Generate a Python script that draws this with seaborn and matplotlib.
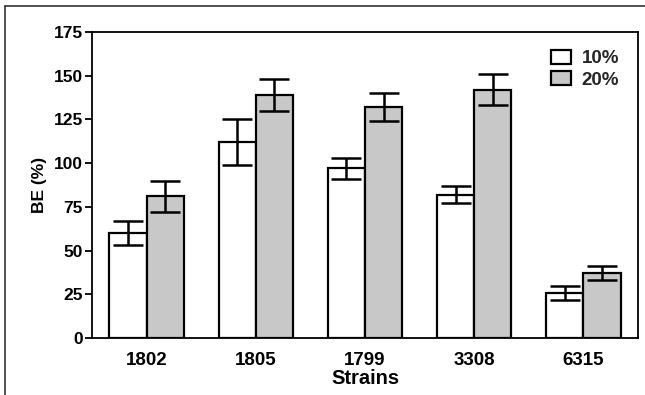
import matplotlib
matplotlib.use("Agg")
import matplotlib.pyplot as plt
import seaborn as sns
import pandas as pd
import numpy as np
from matplotlib.lines import Line2D

strains = ["1802", "1805", "1799", "3308", "6315"]
conc = ["10%", "20%"]
be_10 = [60, 112, 97, 82, 26]
be_20 = [81, 139, 132, 142, 37]
err_10 = [7, 13, 6, 5, 4]
err_20 = [9, 9, 8, 9, 4]

rows = []
for i, s in enumerate(strains):
    rows.append({"Strains": s, "Conc": "10%", "BE": be_10[i], "err": err_10[i]})
    rows.append({"Strains": s, "Conc": "20%", "BE": be_20[i], "err": err_20[i]})
df = pd.DataFrame(rows)

sns.set_theme(style="white")
plt.rcParams['font.family'] = ['Liberation Sans', 'DejaVu Sans']
plt.rcParams['font.weight'] = 'bold'

W, H = 645, 395
fig = plt.figure(figsize=(W / 100, H / 100), dpi=100)
ax = fig.add_axes([92 / W, 1 - 338 / H, (638 - 92) / W, (338 - 32) / H])

sns.barplot(data=df, x="Strains", y="BE", hue="Conc", order=strains, hue_order=conc,
            palette={"10%": "white", "20%": "#c8c8c8"}, width=0.68, errorbar=None,
            edgecolor="black", linewidth=1.6, ax=ax, saturation=1)

# error bars at the bar centres
for container, c in zip(ax.containers, conc):
    sub = df[df["Conc"] == c].set_index("Strains").loc[strains]
    xs = [p.get_x() + p.get_width() / 2 for p in container.patches]
    ax.errorbar(xs, sub["BE"].values, yerr=sub["err"].values, fmt="none",
                ecolor="black", elinewidth=1.8, capsize=11, capthick=1.8, zorder=5)

ax.set_ylim(0, 175)
ax.set_xlim(-0.5, 4.5)
ax.set_yticks([0, 25, 50, 75, 100, 125, 150, 175])
ax.tick_params(axis="y", which="both", left=True, length=5, width=1.3, direction="out",
               labelsize=12.5, pad=1.5, color="black")
ax.tick_params(axis="x", bottom=False, labelsize=13.5, pad=4)
for lab in ax.get_xticklabels() + ax.get_yticklabels():
    lab.set_fontweight("bold")
    lab.set_color("black")
ax.set_xlabel("Strains", fontsize=14.5, fontweight="bold", color="black", labelpad=0)
ax.set_ylabel("BE (%)", fontsize=12.5, fontweight="bold", color="black", labelpad=5)
for sp in ax.spines.values():
    sp.set_visible(True)
    sp.set_color("black")
    sp.set_linewidth(1.3)

leg = ax.legend(title=None, loc="upper right", frameon=False, fontsize=13.5,
                handlelength=1.1, handleheight=0.75, handletextpad=0.55,
                borderaxespad=0.4, labelspacing=0.2, bbox_to_anchor=(0.993, 0.99))
for t in leg.get_texts():
    t.set_fontweight("bold")

# outer frame of the image
fig.add_artist(Line2D([5 / W, 1.0], [1 - 6 / H, 1 - 6 / H], transform=fig.transFigure,
                      color="#333333", linewidth=1.2))
fig.add_artist(Line2D([5 / W, 5 / W], [0.0, 1 - 6 / H], transform=fig.transFigure,
                      color="#333333", linewidth=1.2))

fig.savefig("out.png", dpi=100)
